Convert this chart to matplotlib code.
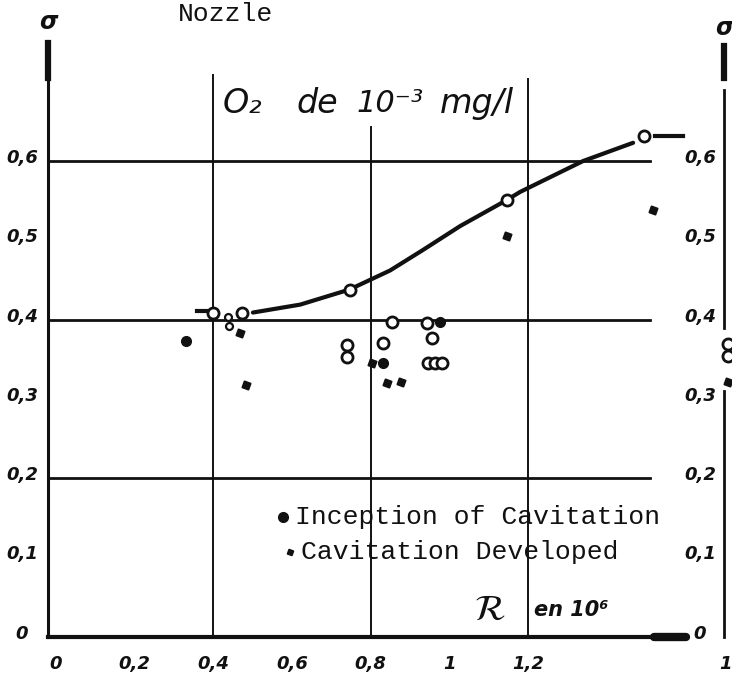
"""Nozzle cavitation chart: sigma vs Reynolds number (R en 10^6), O2 de 10^-3 mg/l."""
import matplotlib
matplotlib.use('Agg')
import matplotlib.pyplot as plt

# ---- data ----
# fitted curve through the inception points
curve_r = [0.501, 0.621, 0.746, 0.849, 0.933, 1.027, 1.146, 1.179, 1.339, 1.466]
curve_s = [0.409, 0.419, 0.438, 0.462, 0.488, 0.518, 0.551, 0.561, 0.600, 0.623]

# open circles
open_r = [0.400, 0.473, 0.747, 1.146, 1.494, 0.854, 0.943, 0.955, 0.831,
          0.740, 0.740, 0.945, 0.963, 0.981, 1.707, 1.707]
open_s = [0.409, 0.409, 0.438, 0.551, 0.631, 0.397, 0.396, 0.377, 0.371,
          0.368, 0.353, 0.346, 0.346, 0.346, 0.369, 0.354]
small_open_r = [0.438, 0.440]
small_open_s = [0.404, 0.392]

# inception of cavitation (filled dots)
incep_r = [0.976, 0.831, 0.331]
incep_s = [0.397, 0.346, 0.373]

# cavitation developed (small marks)
devel_r = [0.468, 0.483, 0.803, 0.841, 0.877, 1.146, 1.516, 1.707]
devel_s = [0.383, 0.318, 0.346, 0.320, 0.322, 0.506, 0.538, 0.322]

# axis labels
x_ticks = [0.0, 0.2, 0.4, 0.6, 0.8, 1.0, 1.2, 1.7]
x_ticklabels = ['0', '0,2', '0,4', '0,6', '0,8', '1', '1,2', '1']
y_ticks = [0.6, 0.5, 0.4, 0.3, 0.2, 0.1, 0.0]
y_ticklabels = ['0,6', '0,5', '0,4', '0,3', '0,2', '0,1', '0']
grid_s = [0.6, 0.4, 0.2]
grid_r = [0.4, 0.8, 1.2]
grid_top = [0.708, 0.643, 0.703]

INK = '#111111'
HAND = dict(fontstyle='italic', fontweight='bold', color=INK, family='DejaVu Sans')
TYPE = dict(family='Liberation Mono', color=INK)

fig = plt.figure(figsize=(7.32, 6.81), dpi=100)
ax = fig.add_axes([0, 0, 1, 1])
ax.set_xlim(-0.141, 1.717)
ax.set_ylim(-0.0555, 0.803)
ax.axis('off')

X_LEFT = -0.019
X_RIGHT = 1.697

# grid
for s in grid_s:
    ax.plot([X_LEFT, 1.51], [s, s], color=INK, lw=2.0)
for r, top in zip(grid_r, grid_top):
    ax.plot([r, r], [0, top], color=INK, lw=1.4)

# axes (arrow heads drawn as thick stubs, like the scan)
ax.plot([X_LEFT, X_LEFT], [0, 0.749], color=INK, lw=2.2)
ax.plot([X_LEFT, X_LEFT], [0.705, 0.749], color=INK, lw=4.5)
ax.plot([X_RIGHT, X_RIGHT], [0.39, 0.690], color=INK, lw=2.0)
ax.plot([X_RIGHT, X_RIGHT], [0, 0.31], color=INK, lw=2.0)
ax.plot([X_RIGHT, X_RIGHT], [0.705, 0.745], color=INK, lw=4.5)
ax.plot([X_LEFT, 1.60], [0, 0], color=INK, lw=3.0)
ax.plot([1.52, 1.60], [0, 0], color=INK, lw=6, solid_capstyle='round')

# tick labels
for r, lab in zip(x_ticks, x_ticklabels):
    ax.text(r, -0.034, lab, ha='center', va='center', fontsize=13, **HAND)
for s, lab in zip(y_ticks, y_ticklabels):
    ax.text(-0.085, s + 0.004, lab, ha='center', va='center', fontsize=13, **HAND)
    ax.text(1.636, s + 0.004, lab, ha='center', va='center', fontsize=13, **HAND)
ax.text(X_LEFT, 0.775, 'σ', ha='center', va='center', fontsize=17, **HAND)
ax.text(X_RIGHT, 0.768, 'σ', ha='center', va='center', fontsize=17, **HAND)

# curve and points
ax.plot(curve_r, curve_s, color=INK, lw=3.0, solid_capstyle='round', solid_joinstyle='round')
ax.plot([0.359, 0.382], [0.411, 0.411], color=INK, lw=3.0)
ax.plot([1.521, 1.593], [0.632, 0.632], color=INK, lw=3.0)
ax.plot(open_r, open_s, 'o', ms=8, mfc='white', mec=INK, mew=2.0, zorder=3)
ax.plot(small_open_r, small_open_s, 'o', ms=5, mfc='white', mec=INK, mew=1.6, zorder=3)
ax.plot(incep_r, incep_s, 'o', ms=7, color=INK, zorder=3)
ax.plot(devel_r, devel_s, marker=(4, 0, 25), ls='none', ms=7, color=INK, zorder=3)

# legend text
ax.plot([0.577], [0.151], 'o', ms=7, color=INK)
ax.text(0.607, 0.151, 'Inception of Cavitation', ha='left', va='center', fontsize=19, **TYPE)
ax.plot([0.595], [0.107], marker=(4, 0, 25), ls='none', ms=5, color=INK)
ax.text(0.622, 0.107, 'Cavitation Developed', ha='left', va='center', fontsize=19, **TYPE)

# annotations
ax.text(0.432, 0.801, 'Nozzle', ha='center', va='top', fontsize=19, **TYPE)
HW = dict(ha='left', va='center', fontstyle='italic', color=INK)
ax.text(0.423, 0.673, 'O₂', fontsize=24, **HW)
ax.text(0.611, 0.673, 'de', fontsize=24, **HW)
ax.text(0.763, 0.673, '10⁻³', fontsize=22, **HW)
ax.text(0.976, 0.673, 'mg/l', fontsize=24, **HW)
ax.text(1.103, 0.034, r'$\mathcal{R}$', ha='center', va='center', fontsize=26, color=INK)
ax.text(1.215, 0.034, 'en 10⁶', ha='left', va='center', fontsize=15, **HAND)

fig.savefig('out.png', dpi=100)
